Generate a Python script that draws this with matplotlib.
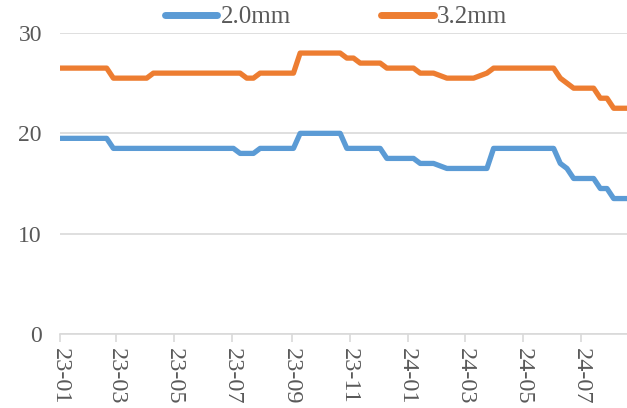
import datetime as dt
import matplotlib
matplotlib.use("Agg")
import matplotlib.pyplot as plt
import matplotlib.dates as mdates

# Weekly price series (from the first week of 2023)
start_date = dt.date(2023, 1, 1)
series_2_0mm = (
    [19.5] * 8 + [18.5] * 19 + [18.0] * 3 + [18.5] * 6 + [20.0] * 7
    + [18.5] * 6 + [17.5] * 5 + [17.0] * 3 + [16.75] + [16.5] * 7
    + [18.5] * 10 + [17.0] + [16.5] + [15.5] * 4 + [14.5] * 2 + [13.5] * 3
)
series_3_2mm = (
    [26.5] * 8 + [25.5] * 6 + [26.0] * 14 + [25.5] * 2 + [26.0] * 6
    + [28.0] * 7 + [27.5] * 2 + [27.0] * 4 + [26.5] * 5 + [26.0] * 3
    + [25.75] + [25.5] * 5 + [25.75] + [26.0] + [26.5] * 10 + [25.5]
    + [25.0] + [24.5] * 4 + [23.5] * 2 + [22.5] * 3
)
series_labels = ["2.0mm", "3.2mm"]
y_ticks = [0, 10, 20, 30]

dates = [start_date + dt.timedelta(weeks=i) for i in range(len(series_2_0mm))]

font = "Liberation Serif"
text_color = "#595959"
grid_color = "#D9D9D9"

fig = plt.figure(figsize=(6.27, 4.08), dpi=100)
ax = fig.add_axes([60 / 627, 1 - 334 / 408, 1 - 60 / 627, (334 - 33) / 408])

ax.plot(dates, series_2_0mm, color="#5B9BD5", lw=3.8, solid_joinstyle="round",
        solid_capstyle="butt", label=series_labels[0])
ax.plot(dates, series_3_2mm, color="#ED7D31", lw=3.8, solid_joinstyle="round",
        solid_capstyle="butt", label=series_labels[1])

ax.set_ylim(0, 30)
ax.set_yticks(y_ticks)
ax.set_xlim(dates[0], dates[-1])
ax.xaxis.set_major_locator(mdates.MonthLocator(bymonth=[1, 3, 5, 7, 9, 11]))
ax.xaxis.set_major_formatter(mdates.DateFormatter("%y-%m"))

ax.grid(axis="y", color=grid_color, lw=1.2)
ax.set_axisbelow(True)
for side in ["left", "right", "top"]:
    ax.spines[side].set_visible(False)
ax.spines["bottom"].set_color(grid_color)
ax.spines["bottom"].set_linewidth(1.2)

ax.tick_params(axis="y", length=0, pad=13, labelsize=17, labelcolor=text_color)
ax.tick_params(axis="x", length=6, width=1.2, color=grid_color, pad=4,
               labelsize=17.5, labelcolor=text_color, labelrotation=-90)
for lbl in ax.get_xticklabels() + ax.get_yticklabels():
    lbl.set_fontfamily(font)
for lbl in ax.get_xticklabels():
    lbl.set_va("top")
    lbl.set_ha("center")

leg = fig.legend(loc="center", bbox_to_anchor=(336 / 627, 1 - 17 / 408), ncol=2,
                 frameon=False, handlelength=2.1, handletextpad=0.15,
                 columnspacing=3.6, prop={"family": font, "size": 18})
for line in leg.get_lines():
    line.set_linewidth(5)
    line.set_solid_capstyle("round")
for t in leg.get_texts():
    t.set_color(text_color)

fig.savefig("out.png", dpi=100)
